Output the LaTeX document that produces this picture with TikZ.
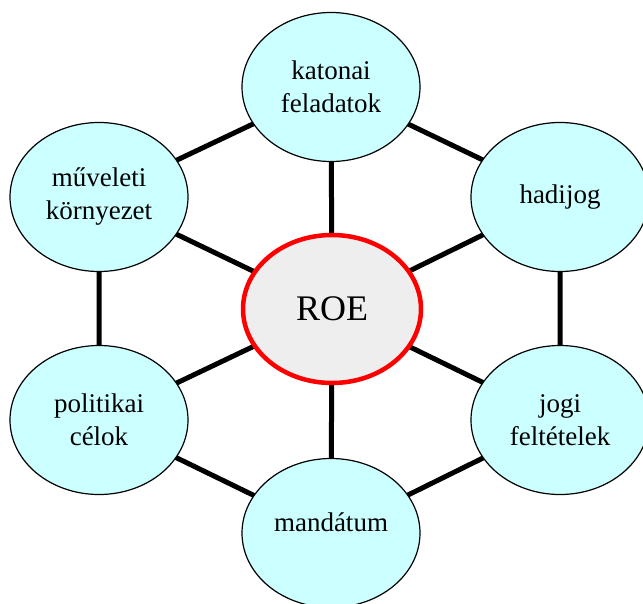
\documentclass[tikz,border=0pt]{standalone}
\usepackage{fontspec}
\setmainfont{Liberation Serif}
\usetikzlibrary{shapes.geometric,backgrounds}
\definecolor{topicfill}{HTML}{CCFFFF}
\definecolor{corefill}{HTML}{EEEEEE}
\definecolor{corered}{HTML}{FF0000}
\begin{document}
\begin{tikzpicture}[x=1pt,y=-1pt,
  topic/.style={ellipse, draw=black, line width=1.2pt, fill=topicfill,
    minimum width=178pt, minimum height=149pt, inner sep=0pt,
    align=center, font=\fontsize{27}{33}\selectfont},
  core/.style={ellipse, draw=corered, line width=4.5pt, fill=corefill,
    minimum width=178pt, minimum height=148pt, inner sep=0pt,
    font=\fontsize{36}{40}\selectfont},
  link/.style={line width=5pt, black}]
\useasboundingbox (0,0) rectangle (643,603);
% the central term and the six topics around it
\node[core]  (roe) at (332,309) {ROE};
\node[topic] (kat) at (331,87)  {katonai\\feladatok};
\node[topic] (muv) at (99,197)  {műveleti\\környezet};
\node[topic] (had) at (560,197) {hadijog};
\node[topic] (pol) at (99,420)  {politikai\\célok};
\node[topic] (jog) at (560,420) {jogi\\feltételek};
\node[topic] (man) at (331,533) {\raisebox{22pt}{mandátum}};
% outer ring and spokes, behind the ellipses
\begin{scope}[on background layer]
  \draw[link] (kat.center) -- (had.center) -- (jog.center) -- (man.center)
              -- (pol.center) -- (muv.center) -- (kat.center);
  \foreach \t in {kat,had,jog,man,pol,muv}
    \draw[link] (roe.center) -- (\t.center);
\end{scope}
\end{tikzpicture}
\end{document}
